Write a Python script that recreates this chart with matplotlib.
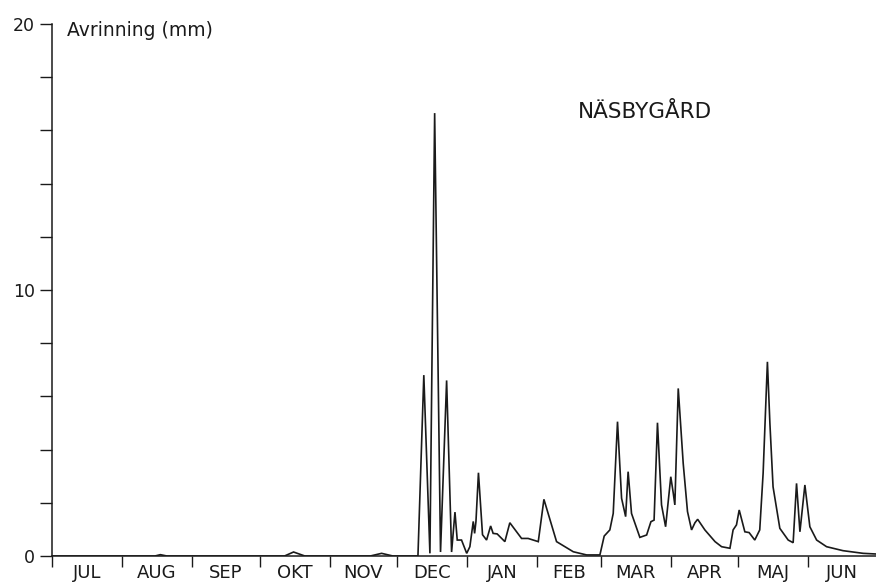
"""Avrinning Näsbygård: daily runoff July-June, plotter style."""

import matplotlib

matplotlib.use("Agg")
import matplotlib.pyplot as plt

# month layout (hydrological year starting in July)
MONTHS = ["JUL", "AUG", "SEP", "OKT", "NOV", "DEC",
          "JAN", "FEB", "MAR", "APR", "MAJ", "JUN"]
MONTH_DAYS = [31, 31, 30, 31, 30, 31, 31, 28, 31, 30, 31, 30]

# runoff curve vertices: day since 1 July, mm
DAY = [0, 45.6, 48.0, 50.9, 103.0, 107.0, 112.0, 141.0, 146.0, 151.0,
       162.1, 164.7, 167.4, 169.5, 172.1, 174.8, 177.0, 178.5, 179.5,
       181.4, 183.7, 185.1, 186.6, 187.2, 187.8, 188.9, 190.7, 192.5,
       194.3, 195.4, 197.2, 200.6, 202.8, 208.0, 210.9, 215.4, 217.9,
       223.5, 230.9, 236.8, 242.7, 244.6, 247.1, 248.6, 250.5, 252.3,
       254.1, 255.2, 256.7, 260.4, 263.4, 265.3, 266.7, 268.2, 270.0,
       271.8, 274.1, 275.2, 275.9, 277.4, 279.6, 281.5, 283.3, 284.8,
       286.0, 289.2, 293.7, 296.6, 300.3, 301.7, 303.2, 304.4, 306.9,
       308.8, 311.3, 313.5, 315.0, 316.9, 318.0, 319.4, 322.4, 326.1,
       328.3, 329.8, 331.3, 333.5, 335.7, 338.7, 343.1, 350.4, 359.3,
       365.0]
RUNOFF = [0.0, 0.0, 0.05, 0.0, 0.0, 0.15, 0.0, 0.0, 0.1, 0.0,
          0.0, 6.8, 0.1, 16.65, 0.15, 6.6, 0.15, 1.65, 0.6,
          0.6, 0.1, 0.35, 1.3, 0.85, 1.3, 3.13, 0.8, 0.6,
          1.13, 0.85, 0.83, 0.54, 1.25, 0.66, 0.66, 0.54, 2.13,
          0.54, 0.16, 0.04, 0.04, 0.75, 0.98, 1.6, 5.05, 2.17,
          1.48, 3.17, 1.6, 0.7, 0.79, 1.29, 1.35, 5.01, 1.92,
          1.1, 2.98, 2.36, 1.92, 6.3, 3.48, 1.67, 0.98, 1.25,
          1.38, 0.98, 0.54, 0.35, 0.29, 0.98, 1.17, 1.73, 0.91,
          0.88, 0.6, 0.98, 3.11, 7.3, 4.99, 2.6, 1.04, 0.6,
          0.5, 2.73, 0.91, 2.67, 1.1, 0.6, 0.35, 0.2, 0.1,
          0.075]

INK = "#1a1a1a"

plt.rcParams["font.family"] = ["DejaVu Sans"]
fig = plt.figure(figsize=(8.76, 5.82), dpi=100)
ax = fig.add_axes([52 / 876, 26 / 582, 824 / 876, 532 / 582])

ax.plot(DAY, RUNOFF, color=INK, linewidth=1.2, solid_joinstyle="miter")

bounds = [0]
for n in MONTH_DAYS:
    bounds.append(bounds[-1] + n)
mids = [(a + b) / 2 for a, b in zip(bounds[:-1], bounds[1:])]

ax.set_xlim(0, 365)
ax.set_ylim(0, 20)
ax.set_xticks(bounds[:-1])
ax.set_xticklabels([])
ax.set_xticks(mids, minor=True)
ax.set_xticklabels(MONTHS, minor=True)
ax.tick_params(axis="x", which="major", direction="out", length=8,
               width=1.0, color=INK)
ax.tick_params(axis="x", which="minor", length=0, pad=6, labelsize=13,
               labelcolor=INK)

ax.set_yticks([0, 10, 20])
ax.set_yticks([2, 4, 6, 8, 12, 14, 16, 18], minor=True)
ax.tick_params(axis="y", which="both", direction="out", length=8.5,
               width=1.0, color=INK, labelsize=12.5, labelcolor=INK, pad=4)

for side in ("top", "right"):
    ax.spines[side].set_visible(False)
for side in ("left", "bottom"):
    ax.spines[side].set_color(INK)
    ax.spines[side].set_linewidth(1.1)
ax.spines["bottom"].set_zorder(1)

ax.text(6.6, 19.75, "Avrinning (mm)", fontsize=13.5, color=INK,
        ha="left", va="center")
ax.text(233, 16.7, "NÄSBYGÅRD", fontsize=15.5, color=INK,
        ha="left", va="center")

fig.savefig("out.png", dpi=100)
